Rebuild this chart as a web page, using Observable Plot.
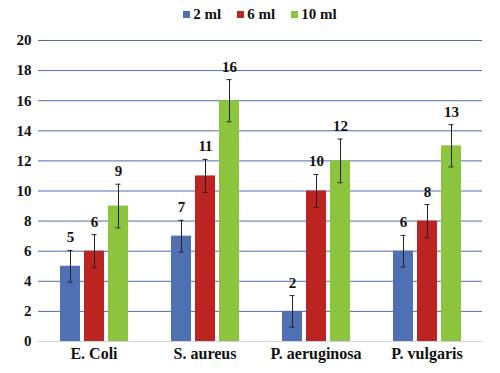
<!DOCTYPE html>
<html>
<head>
<meta charset="utf-8">
<script src="https://cdn.jsdelivr.net/npm/d3@7"></script>
<script src="https://cdn.jsdelivr.net/npm/@observablehq/plot@0.6"></script>
<style>
  html, body { margin: 0; padding: 0; background: #fff; }
  #legend { height: 28px; display: flex; justify-content: center; align-items: center;
    font-family: "Liberation Serif", "DejaVu Serif", serif; font-weight: bold; font-size: 15px; color: #111; padding-left: 20px; box-sizing: border-box; width: 500px; }
  .item { display: flex; align-items: center; margin: 0 8px; }
  .sw { width: 7px; height: 7px; margin-right: 3px; }
  #chart svg text { font-family: "Liberation Serif", "DejaVu Serif", serif; }
</style>
</head>
<body>
<div id="legend"></div>
<div id="chart"></div>
<script>
const categories = ["E. Coli", "S. aureus", "P. aeruginosa", "P. vulgaris"];
const series = ["2 ml", "6 ml", "10 ml"];
const colors = ["#4f70b2", "#bc2422", "#8cc43e"];
const values2 = [5, 7, 2, 6];
const values6 = [6, 11, 10, 8];
const values10 = [9, 16, 12, 13];
const err2 = [1.05, 1.05, 1.05, 1.05];
const err6 = [1.1, 1.1, 1.1, 1.1];
const err10 = [1.45, 1.4, 1.45, 1.4];
const yTicks = [0, 2, 4, 6, 8, 10, 12, 14, 16, 18, 20];

const valueSets = [values2, values6, values10];
const errSets = [err2, err6, err10];
const data = [];
categories.forEach((c, i) => {
  series.forEach((s, j) => {
    data.push({category: c, series: s, value: valueSets[j][i], err: errSets[j][i]});
  });
});

// legend
const leg = d3.select("#legend");
series.forEach((s, j) => {
  const it = leg.append("div").attr("class", "item");
  it.append("div").attr("class", "sw").style("background", colors[j]);
  it.append("span").text(s);
});

const chart = Plot.plot({
  width: 500,
  height: 345,
  marginTop: 12,
  marginBottom: 32,
  marginLeft: 38,
  marginRight: 18,
  style: {fontFamily: "Liberation Serif, DejaVu Serif, serif", fontSize: "15px", fontWeight: "bold", color: "#111", background: "transparent"},
  fx: {domain: categories, padding: 0, label: null},
  x: {domain: series, paddingInner: 0.1875, paddingOuter: 0.906, axis: null},
  y: {domain: [0, 20], ticks: yTicks, tickSize: 0, tickPadding: 7, label: null},
  color: {domain: series, range: colors},
  marks: [
    Plot.ruleY(yTicks.filter(d => d > 0), {stroke: "#4a6db0", strokeWidth: 1}),
    Plot.ruleY([0], {stroke: "#cdd3de", strokeWidth: 1}),
    Plot.barY(data, {fx: "category", x: "series", y: "value", fill: "series"}),
    Plot.ruleX(data, {fx: "category", x: "series", y1: d => d.value - d.err, y2: d => d.value + d.err, stroke: "#222", strokeWidth: 1}),
    Plot.tickY(data, {fx: "category", x: "series", y: d => d.value + d.err, insetLeft: 7.5, insetRight: 7.5, stroke: "#222", strokeWidth: 1}),
    Plot.tickY(data, {fx: "category", x: "series", y: d => d.value - d.err, insetLeft: 7.5, insetRight: 7.5, stroke: "#222", strokeWidth: 1}),
    Plot.text(data, {fx: "category", x: "series", y: d => d.value + d.err, text: d => String(d.value), dy: -8, lineAnchor: "bottom", fontSize: 15, fontWeight: "bold", fill: "#111"}),
    Plot.axisFx({anchor: "bottom", tickSize: 0, tickPadding: 6, fontSize: 16, fontWeight: "bold", label: null})
  ]
});
document.getElementById("chart").appendChild(chart);
</script>
</body>
</html>
